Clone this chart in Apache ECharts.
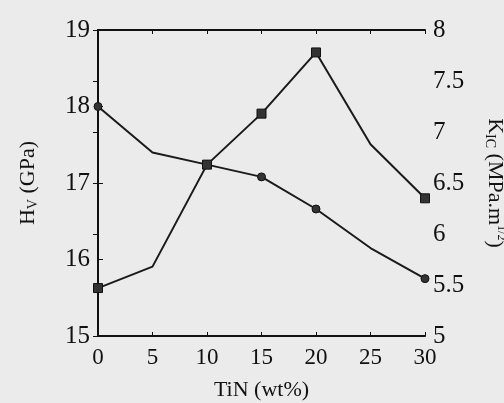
<!DOCTYPE html>
<html>
<head>
<meta charset="utf-8">
<script src="https://cdn.jsdelivr.net/npm/echarts@6/dist/echarts.min.js"></script>
<style>
  html, body { margin: 0; padding: 0; background: #ebebeb; }
  #chart { width: 504px; height: 403px; }
</style>
</head>
<body>
<div id="chart"></div>
<script>
// TiN content (wt%)
const tin = [0, 5, 10, 15, 20, 25, 30];
// Vickers hardness H_V (GPa), left axis
const hardness = [18.0, 17.4, 17.24, 17.08, 16.66, 16.15, 15.75];
// Fracture toughness K_IC (MPa.m^1/2), right axis
const toughness = [5.47, 5.68, 6.68, 7.18, 7.78, 6.88, 6.35];
// Points measured (marker drawn); others are line vertices only
const measured = [true, false, true, true, true, false, true];

const serif = '"Liberation Serif", "Times New Roman", Times, serif';

function pts(vals, sym) {
  return vals.map((v, i) => ({
    value: [tin[i], v],
    symbol: measured[i] ? sym : 'none'
  }));
}

const chart = echarts.init(document.getElementById('chart'));
chart.setOption({
  backgroundColor: '#ebebeb',
  animation: false,
  grid: { left: 98, right: 79, top: 30, bottom: 67, containLabel: false, outerBoundsMode: 'none' },
  xAxis: [
    {
      type: 'value', min: 0, max: 30, interval: 5, position: 'bottom',
      name: 'TiN (wt%)', nameLocation: 'middle', nameGap: 43,
      nameTextStyle: { fontFamily: serif, fontSize: 22, color: '#111' },
      axisLine: { lineStyle: { color: '#111', width: 2 } },
      axisTick: { inside: true, length: 4, lineStyle: { color: '#111', width: 1 } },
      axisLabel: { fontFamily: serif, fontSize: 23, color: '#111', margin: 10 },
      splitLine: { show: false }
    },
    {
      type: 'value', min: 0, max: 30, interval: 5, position: 'top',
      axisLine: { lineStyle: { color: '#111', width: 2 } },
      axisTick: { inside: true, length: 4, lineStyle: { color: '#111', width: 1 } },
      axisLabel: { show: false },
      splitLine: { show: false }
    }
  ],
  yAxis: [
    {
      type: 'value', min: 15, max: 19, interval: 1, position: 'left',
      name: '{m|H}{s|V}{m| (GPa)}', nameLocation: 'middle', nameGap: 58, nameRotate: 90,
      nameTextStyle: {
        color: '#111',
        rich: {
          m: { fontFamily: serif, fontSize: 22, color: '#111' },
          s: { fontFamily: serif, fontSize: 14, color: '#111', verticalAlign: 'bottom', padding: [10, 0, 0, 0] }
        }
      },
      axisLine: { lineStyle: { color: '#111', width: 2 } },
      axisTick: { inside: true, length: 5, lineStyle: { color: '#111', width: 1 } },
      axisLabel: { fontFamily: serif, fontSize: 25, color: '#111', margin: 8 },
      splitLine: { show: false }
    },
    {
      type: 'value', min: 5, max: 8, interval: 0.5, position: 'right',
      name: '{m|K}{s|IC}{m| (MPa.m}{p|1/2}{m|)}', nameLocation: 'middle', nameGap: 58, nameRotate: -90,
      nameTextStyle: {
        color: '#111',
        rich: {
          m: { fontFamily: serif, fontSize: 22, color: '#111' },
          s: { fontFamily: serif, fontSize: 14, color: '#111', verticalAlign: 'bottom', padding: [10, 0, 0, 0] },
          p: { fontFamily: serif, fontSize: 12, color: '#111', verticalAlign: 'top', padding: [0, 0, 10, 0] }
        }
      },
      axisLine: { lineStyle: { color: '#111', width: 2 } },
      axisTick: { inside: true, length: 5, lineStyle: { color: '#111', width: 1 } },
      axisLabel: { fontFamily: serif, fontSize: 25, color: '#111', margin: 8 },
      splitLine: { show: false }
    }
  ],
  series: [
    {
      name: 'H_V', type: 'line', xAxisIndex: 0, yAxisIndex: 0,
      data: pts(hardness, 'circle'), symbolSize: 8,
      lineStyle: { color: '#1a1a1a', width: 2 },
      itemStyle: { color: '#333', borderColor: '#111', borderWidth: 1 }
    },
    {
      name: 'K_IC', type: 'line', xAxisIndex: 0, yAxisIndex: 1,
      data: pts(toughness, 'rect'), symbolSize: 9,
      lineStyle: { color: '#1a1a1a', width: 2 },
      itemStyle: { color: '#333', borderColor: '#111', borderWidth: 1 }
    }
  ]
});
</script>
</body>
</html>
